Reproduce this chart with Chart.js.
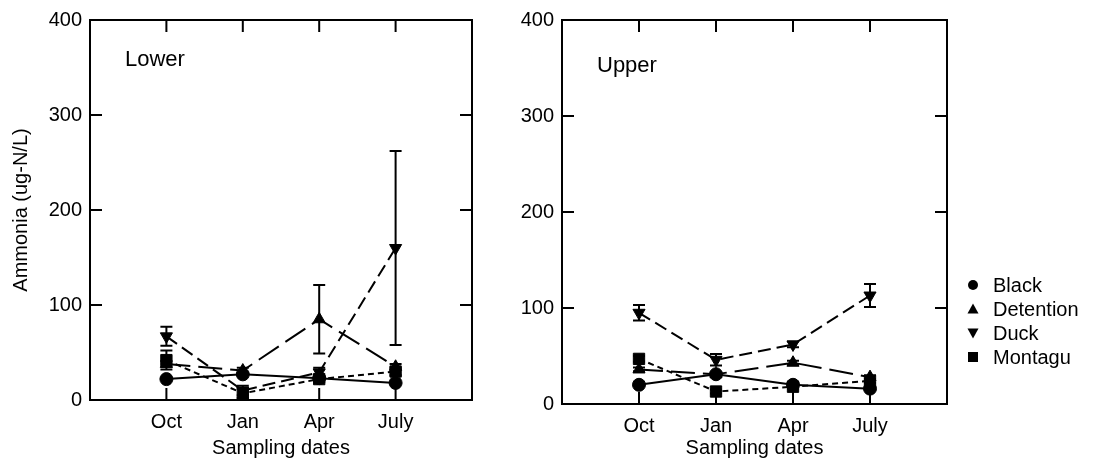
<!DOCTYPE html>
<html>
<head>
<meta charset="utf-8">
<script src="https://cdn.jsdelivr.net/npm/chart.js@4/dist/chart.umd.min.js"></script>
<style>
  body { margin: 0; background: #fff; }
  #wrap { position: relative; width: 1094px; height: 464px; }
  canvas { position: absolute; top: 0; }
</style>
</head>
<body>
<div id="wrap">
  <canvas id="lowerChart" width="490" height="464" style="left:0"></canvas>
  <canvas id="upperChart" width="614" height="464" style="left:480px"></canvas>
</div>
<script>
// Fechas de muestreo y sitios
const dates = ['Oct', 'Jan', 'Apr', 'July'];
const sites = ['Black', 'Detention', 'Duck', 'Montagu'];
const yTicks = [0, 100, 200, 300, 400];

// Tramo inferior (Lower)
const lowerBlack = [22, 27, 23, 18];
const lowerBlackErr = [0, 0, 0, 0];
const lowerDetention = [38, 31, 85, 35];
const lowerDetentionErr = [3, 3, 36, 3];
const lowerDuck = [67, 10, 29, 160];
const lowerDuckErr = [10, 5, 5, 102];
const lowerMontagu = [42, 7, 22, 30];
const lowerMontaguErr = [10, 5, 3, 4];

// Tramo superior (Upper)
const upperBlack = [20, 31, 20, 16];
const upperBlackErr = [0, 0, 0, 0];
const upperDetention = [36, 31, 43, 28];
const upperDetentionErr = [2, 2, 2, 2];
const upperDuck = [95, 46, 62, 113];
const upperDuckErr = [8, 6, 3, 12];
const upperMontagu = [47, 13, 18, 24];
const upperMontaguErr = [3, 2, 2, 2];

Chart.defaults.font.family = '"Liberation Sans", Arial, Helvetica, sans-serif';
Chart.defaults.font.size = 20;
Chart.defaults.color = '#000';

// Estilo de cada sitio: marcador y tipo de linea
const styles = {
    Black:     { pointStyle: 'circle',   radius: 6.5, rotation: 0,   dash: [] },
    Detention: { pointStyle: 'triangle', radius: 7,   rotation: 0,   dash: [24, 8] },
    Duck:      { pointStyle: 'triangle', radius: 7,   rotation: 180, dash: [13, 6] },
    Montagu:   { pointStyle: 'rect',     radius: 8,   rotation: 0,   dash: [6, 4] }
};

function makeDataset(site, values, errors) {
    const s = styles[site];
    return {
        label: site,
        data: values.map((v, i) => ({ x: i + 1, y: v })),
        errors: errors,
        borderColor: '#000',
        backgroundColor: '#000',
        borderWidth: 2,
        borderDash: s.dash,
        pointStyle: s.pointStyle,
        pointRadius: s.radius,
        pointRotation: s.rotation,
        pointBorderWidth: 1,
        tension: 0
    };
}

// Marco con marcas hacia dentro en los cuatro lados
const framePlugin = {
    id: 'frame',
    beforeDatasetsDraw(chart) {
        const { ctx, chartArea: a, scales: { x, y } } = chart;
        const len = 12;
        ctx.save();
        ctx.strokeStyle = '#000';
        ctx.lineWidth = 2;
        ctx.strokeRect(a.left, a.top, a.right - a.left, a.bottom - a.top);
        ctx.beginPath();
        x.ticks.forEach(t => {
            const px = x.getPixelForValue(t.value);
            ctx.moveTo(px, a.bottom); ctx.lineTo(px, a.bottom - len);
            ctx.moveTo(px, a.top); ctx.lineTo(px, a.top + len);
        });
        y.ticks.forEach(t => {
            const py = y.getPixelForValue(t.value);
            ctx.moveTo(a.left, py); ctx.lineTo(a.left + len, py);
            ctx.moveTo(a.right, py); ctx.lineTo(a.right - len, py);
        });
        ctx.stroke();
        ctx.restore();
    }
};

// Barras de error verticales con remates
const errorBarPlugin = {
    id: 'errorBars',
    beforeDatasetsDraw(chart) {
        const { ctx, scales: { x, y } } = chart;
        const cap = 6;
        ctx.save();
        ctx.strokeStyle = '#000';
        ctx.lineWidth = 2;
        chart.data.datasets.forEach(ds => {
            ds.data.forEach((p, i) => {
                const e = ds.errors[i];
                if (!e) return;
                const px = x.getPixelForValue(p.x);
                const top = y.getPixelForValue(p.y + e);
                const bot = y.getPixelForValue(Math.max(p.y - e, 0));
                ctx.beginPath();
                ctx.moveTo(px, top); ctx.lineTo(px, bot);
                ctx.moveTo(px - cap, top); ctx.lineTo(px + cap, top);
                if (p.y - e > 0) { ctx.moveTo(px - cap, bot); ctx.lineTo(px + cap, bot); }
                ctx.stroke();
            });
        });
        ctx.restore();
    }
};

// Nombre del tramo dentro del grafico
const panelLabelPlugin = {
    id: 'panelLabel',
    afterDraw(chart, args, opts) {
        const { ctx, chartArea: a } = chart;
        ctx.save();
        ctx.fillStyle = '#000';
        ctx.font = '22px "Liberation Sans", Arial, sans-serif';
        ctx.textBaseline = 'middle';
        ctx.fillText(opts.text, a.left + opts.dx, a.top + opts.dy);
        ctx.restore();
    }
};

// Leyenda a la derecha del grafico superior
const sideLegendPlugin = {
    id: 'sideLegend',
    afterDraw(chart, args, opts) {
        if (!opts.show) return;
        const { ctx, chartArea: a } = chart;
        const mx = a.right + 26;
        ctx.save();
        ctx.fillStyle = '#000';
        ctx.font = '20px "Liberation Sans", Arial, sans-serif';
        ctx.textBaseline = 'middle';
        chart.data.datasets.forEach((ds, i) => {
            const cy = a.top + 265 + i * 24;
            ctx.beginPath();
            if (ds.pointStyle === 'circle') {
                ctx.arc(mx, cy, 5, 0, Math.PI * 2);
            } else if (ds.pointStyle === 'rect') {
                ctx.rect(mx - 5, cy - 5, 10, 10);
            } else if (ds.pointRotation === 180) {
                ctx.moveTo(mx - 5.5, cy - 4.5); ctx.lineTo(mx + 5.5, cy - 4.5); ctx.lineTo(mx, cy + 5.5);
            } else {
                ctx.moveTo(mx - 5.5, cy + 4.5); ctx.lineTo(mx + 5.5, cy + 4.5); ctx.lineTo(mx, cy - 5.5);
            }
            ctx.closePath();
            ctx.fill();
            ctx.fillText(ds.label, mx + 20, cy + 1);
        });
        ctx.restore();
    }
};

function makeChart(canvasId, datasets, cfg) {
    return new Chart(document.getElementById(canvasId), {
        type: 'line',
        data: { datasets: datasets },
        options: {
            responsive: false,
            animation: false,
            devicePixelRatio: 1,
            layout: { padding: { top: 20, right: cfg.padRight, bottom: 0, left: 0 } },
            plugins: {
                legend: { display: false },
                tooltip: { enabled: false },
                panelLabel: { text: cfg.label, dx: 35, dy: cfg.labelDy },
                sideLegend: { show: cfg.legend }
            },
            scales: {
                x: {
                    type: 'linear',
                    min: 0,
                    max: 5,
                    afterBuildTicks: s => { s.ticks = dates.map((d, i) => ({ value: i + 1 })); },
                    afterFit: s => { s.height = cfg.xHeight; },
                    ticks: { padding: 10, callback: v => dates[v - 1] },
                    grid: { display: false, drawTicks: false },
                    border: { display: false },
                    title: { display: true, text: 'Sampling dates', padding: { top: 0, bottom: 4 } }
                },
                y: {
                    min: 0,
                    max: 400,
                    afterBuildTicks: s => { s.ticks = yTicks.map(v => ({ value: v })); },
                    afterFit: s => { s.width = cfg.yWidth; },
                    ticks: { padding: 8 },
                    grid: { display: false, drawTicks: false },
                    border: { display: false },
                    title: { display: cfg.yTitle, text: 'Ammonia (ug-N/L)', padding: 9 }
                }
            }
        },
        plugins: [framePlugin, errorBarPlugin, panelLabelPlugin, sideLegendPlugin]
    });
}

makeChart('lowerChart', [
    makeDataset('Black', lowerBlack, lowerBlackErr),
    makeDataset('Detention', lowerDetention, lowerDetentionErr),
    makeDataset('Duck', lowerDuck, lowerDuckErr),
    makeDataset('Montagu', lowerMontagu, lowerMontaguErr)
], { label: 'Lower', labelDy: 40, padRight: 18, xHeight: 64, yWidth: 90, yTitle: true, legend: false });

makeChart('upperChart', [
    makeDataset('Black', upperBlack, upperBlackErr),
    makeDataset('Detention', upperDetention, upperDetentionErr),
    makeDataset('Duck', upperDuck, upperDuckErr),
    makeDataset('Montagu', upperMontagu, upperMontaguErr)
], { label: 'Upper', labelDy: 46, padRight: 147, xHeight: 60, yWidth: 82, yTitle: false, legend: true });
</script>
</body>
</html>
